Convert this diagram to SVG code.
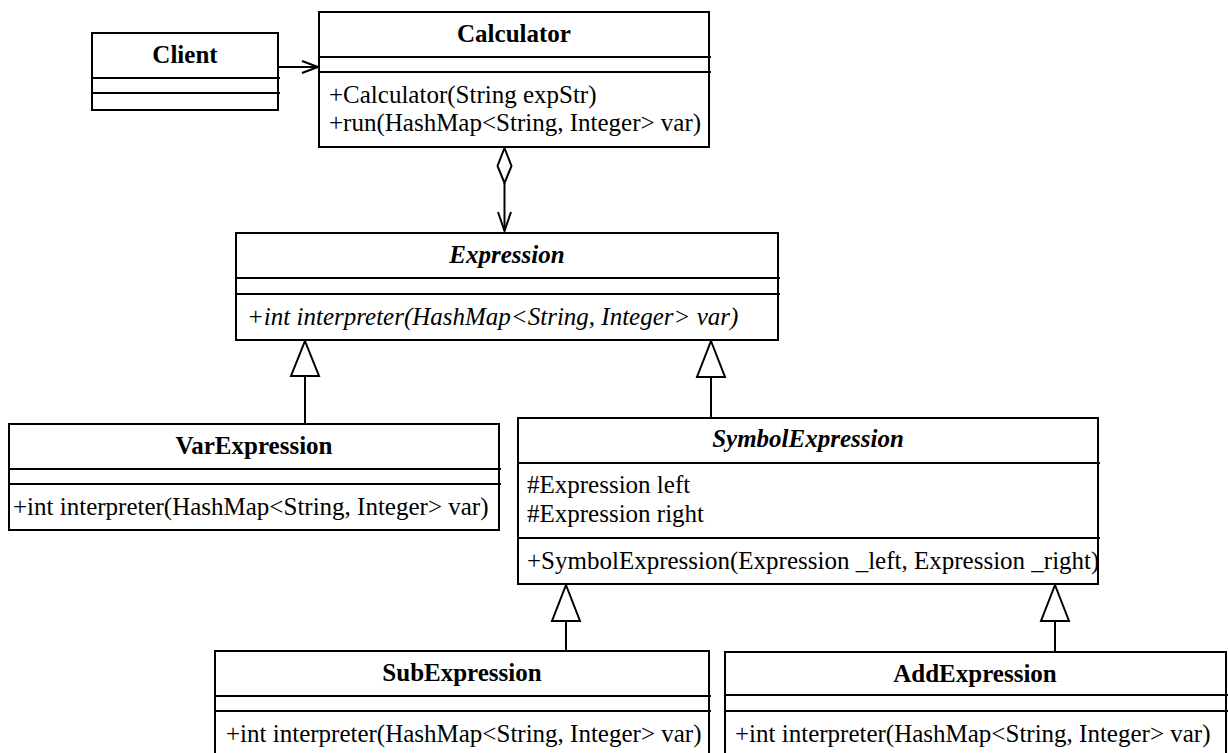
<svg xmlns="http://www.w3.org/2000/svg" width="1228" height="753" viewBox="0 0 1228 753">
<style>
.box{fill:#fff;stroke:#000;stroke-width:2}
.sep{stroke:#000;stroke-width:2}
.t{font-family:"Liberation Serif","Times New Roman",serif;font-size:25px;fill:#000}
.title{font-weight:bold;text-anchor:middle}
.it{font-style:italic}
.conn{stroke:#000;stroke-width:2;fill:none}
.tri{fill:#fff;stroke:#000;stroke-width:2}
</style>
<rect width="1228" height="753" fill="#fff"/>
<g id="connectors">
  <line class="conn" x1="278" y1="67" x2="318" y2="67"/>
  <polyline class="conn" points="302,61 318,67 302,73"/>
  <polygon class="tri" points="504.5,148 511.5,166 504.5,183 497.5,166"/>
  <line class="conn" x1="504.5" y1="183" x2="504.5" y2="231"/>
  <polyline class="conn" points="498,212 504.5,231 511,212"/>
  <line class="conn" x1="305" y1="376" x2="305" y2="424"/>
  <polygon class="tri" points="305,341 319,376 291,376"/>
  <line class="conn" x1="711" y1="377" x2="711" y2="418"/>
  <polygon class="tri" points="711,341 725,377 697,377"/>
  <line class="conn" x1="566" y1="621" x2="566" y2="651"/>
  <polygon class="tri" points="566,585 580,621 552,621"/>
  <line class="conn" x1="1055" y1="621" x2="1055" y2="652"/>
  <polygon class="tri" points="1055,585 1069,621 1041,621"/>
</g>
<g id="Client">
  <rect class="box" x="92" y="33" width="186" height="77"/>
  <line class="sep" x1="92" y1="78" x2="280" y2="78"/>
  <line class="sep" x1="92" y1="93" x2="280" y2="93"/>
  <text class="t title" x="185" y="63">Client</text>
</g>
<g id="Calculator">
  <rect class="box" x="319" y="12" width="390" height="135"/>
  <line class="sep" x1="319" y1="57" x2="711" y2="57"/>
  <line class="sep" x1="319" y1="72" x2="711" y2="72"/>
  <text class="t title" x="514" y="42">Calculator</text>
  <text class="t" x="329" y="103">+Calculator(String expStr)</text>
  <text class="t" x="329" y="131">+run(HashMap&lt;String, Integer&gt; var)</text>
</g>
<g id="Expression">
  <rect class="box" x="236" y="233" width="542" height="107"/>
  <line class="sep" x1="236" y1="278" x2="780" y2="278"/>
  <line class="sep" x1="236" y1="294" x2="780" y2="294"/>
  <text class="t title it" x="507" y="263">Expression</text>
  <text class="t it" x="247" y="325">+int interpreter(HashMap&lt;String, Integer&gt; var)</text>
</g>
<g id="VarExpression">
  <rect class="box" x="9" y="424" width="490" height="106"/>
  <line class="sep" x1="9" y1="469" x2="501" y2="469"/>
  <line class="sep" x1="9" y1="484" x2="501" y2="484"/>
  <text class="t title" x="254" y="454">VarExpression</text>
  <text class="t" x="13" y="515">+int interpreter(HashMap&lt;String, Integer&gt; var)</text>
</g>
<g id="SymbolExpression">
  <rect class="box" x="518" y="418" width="580" height="166"/>
  <line class="sep" x1="518" y1="463" x2="1100" y2="463"/>
  <line class="sep" x1="518" y1="538" x2="1100" y2="538"/>
  <text class="t title it" x="808" y="447">SymbolExpression</text>
  <text class="t" x="527" y="493">#Expression left</text>
  <text class="t" x="527" y="522">#Expression right</text>
  <text class="t" x="527" y="569">+SymbolExpression(Expression _left, Expression _right)</text>
</g>
<g id="SubExpression">
  <rect class="box" x="215" y="651" width="494" height="110"/>
  <line class="sep" x1="215" y1="696" x2="711" y2="696"/>
  <line class="sep" x1="215" y1="711" x2="711" y2="711"/>
  <text class="t title" x="462" y="681">SubExpression</text>
  <text class="t" x="226" y="742">+int interpreter(HashMap&lt;String, Integer&gt; var)</text>
</g>
<g id="AddExpression">
  <rect class="box" x="725" y="652" width="501" height="110"/>
  <line class="sep" x1="725" y1="695" x2="1228" y2="695"/>
  <line class="sep" x1="725" y1="711" x2="1228" y2="711"/>
  <text class="t title" x="975" y="682">AddExpression</text>
  <text class="t" x="735" y="742">+int interpreter(HashMap&lt;String, Integer&gt; var)</text>
</g>
</svg>
